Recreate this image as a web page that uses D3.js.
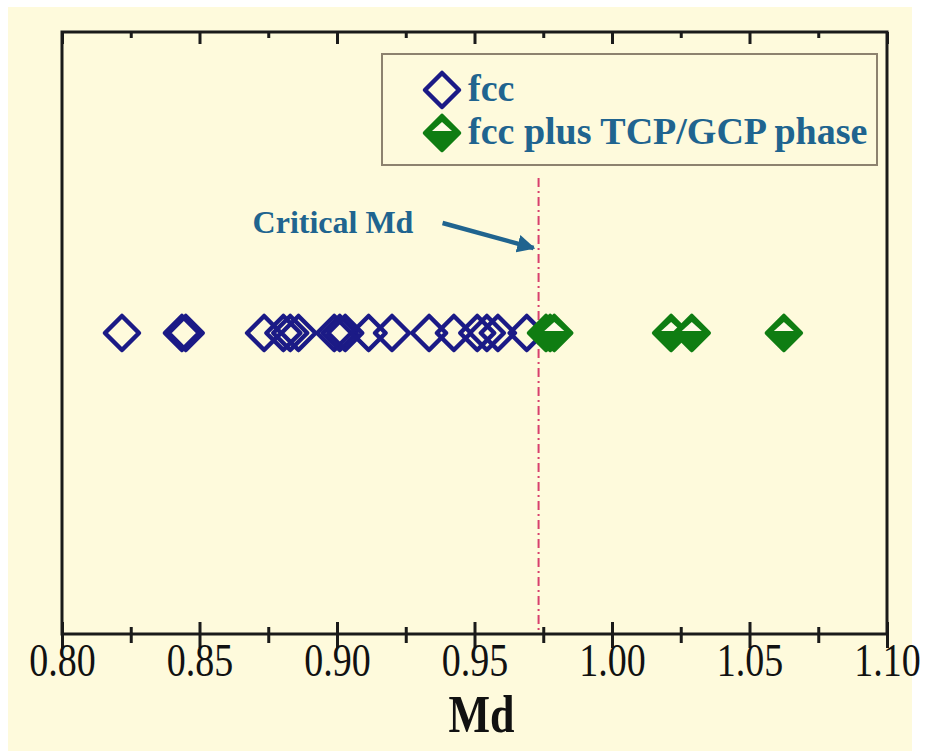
<!DOCTYPE html>
<html>
<head>
<meta charset="utf-8">
<script src="https://cdn.jsdelivr.net/npm/d3@7"></script>
<style>
  body { margin: 0; background: #ffffff; }
  svg { display: block; }
  text { font-family: "Liberation Serif", "Times New Roman", serif; }
</style>
</head>
<body>
<script>
// Md values
var fccMd = [0.8218, 0.8436, 0.8450, 0.8735, 0.8805, 0.8830, 0.8860, 0.8990,
  0.9010, 0.9030, 0.9115, 0.9200, 0.9335, 0.9425, 0.9510, 0.9545, 0.9585, 0.9690];
var tcpMd = [0.9760, 0.9775, 0.9790, 1.0215, 1.0290, 1.0625];
var criticalMd = 0.9733;
var majorTicks = [0.80, 0.85, 0.90, 0.95, 1.00, 1.05, 1.10];
var minorTicks = [0.825, 0.875, 0.925, 0.975, 1.025, 1.075];
var legendLabels = ["fcc", "fcc plus TCP/GCP phase"];

var W = 926, H = 751;
var margin = { top: 32, right: 39, bottom: 117, left: 62 };
var width = W - margin.left - margin.right,
  height = H - margin.top - margin.bottom;

var blue = "#1b1a86", green = "#0f7d12", textBlue = "#20648f";

var svg = d3.select("body").append("svg").attr("width", W).attr("height", H);

// cream background
svg.append("rect").attr("x", 8).attr("y", 7).attr("width", 904).attr("height", 744)
  .style("fill", "#fefadc");

var g = svg.append("g")
  .attr("transform", "translate(" + margin.left + "," + margin.top + ")");

var x = d3.scaleLinear().domain([0.80, 1.10]).range([0, width]);
var y = d3.scaleLinear().domain([0, 1]).range([height, 0]);

// frame
g.append("rect").attr("width", width).attr("height", height)
  .style("fill", "none").style("stroke", "#1a1a1a").style("stroke-width", 3);

// bottom axis, ticks crossing the line
var bottomMajor = g.append("g").attr("transform", "translate(0," + height + ")")
  .call(d3.axisBottom(x).tickValues(majorTicks).tickSize(14).tickFormat(d3.format(".2f")));
bottomMajor.selectAll(".tick line").attr("y1", -12);
bottomMajor.selectAll(".tick text")
  .attr("y", 0).attr("dy", 0)
  .attr("transform", "translate(0,42) scale(1,1.2)")
  .style("font-size", "38px").style("fill", "#111");

var bottomMinor = g.append("g").attr("transform", "translate(0," + height + ")")
  .call(d3.axisBottom(x).tickValues(minorTicks).tickSize(9).tickFormat(""));
bottomMinor.selectAll(".tick line").attr("y1", -7);

// top axis, ticks inward
g.append("g").call(d3.axisBottom(x).tickValues(majorTicks).tickSize(12).tickFormat(""));
g.append("g").call(d3.axisBottom(x).tickValues(minorTicks).tickSize(6).tickFormat(""));

g.selectAll(".domain").remove();
g.selectAll(".tick line").style("stroke", "#1a1a1a").style("stroke-width", 3);

// axis title
g.append("text")
  .attr("transform", "translate(" + x(0.9525) + "," + (height + 98) + ") scale(1,1.2)")
  .style("text-anchor", "middle").style("font-weight", "bold")
  .style("font-size", "44px").style("fill", "#111")
  .text("Md");

// critical Md line
g.append("line")
  .attr("x1", x(criticalMd)).attr("x2", x(criticalMd))
  .attr("y1", 146).attr("y2", height)
  .style("stroke", "#d8406e").style("stroke-width", 2)
  .style("stroke-dasharray", "9,4,2,4");

// annotation
svg.append("defs").append("marker")
  .attr("id", "arr").attr("viewBox", "0 0 10 10").attr("refX", 9).attr("refY", 5)
  .attr("markerWidth", 4).attr("markerHeight", 4).attr("orient", "auto")
  .append("path").attr("d", "M0,0L10,5L0,10z").style("fill", textBlue);

g.append("line")
  .attr("x1", x(criticalMd) - 96).attr("y1", 191)
  .attr("x2", x(criticalMd) - 5).attr("y2", 216)
  .style("stroke", textBlue).style("stroke-width", 4.5)
  .attr("marker-end", "url(#arr)");

g.append("text")
  .attr("x", x(criticalMd) - 286).attr("y", 201)
  .style("font-weight", "bold").style("font-size", "32px").style("fill", textBlue)
  .text("Critical Md");

// markers
var s = 17;
function diamond(cx, cy) {
  return "M" + cx + "," + (cy - s) + "L" + (cx + s) + "," + cy +
    "L" + cx + "," + (cy + s) + "L" + (cx - s) + "," + cy + "Z";
}
function drawFcc(sel) {
  sel.append("path")
    .attr("d", function (d) { return diamond(d.x, d.y); })
    .style("fill", "none").style("stroke", blue).style("stroke-width", 4.5)
    .style("stroke-linejoin", "round");
}
function drawTcp(sel) {
  sel.append("path")
    .attr("d", function (d) { return diamond(d.x, d.y); })
    .style("fill", green).style("stroke", green).style("stroke-width", 4.5)
    .style("stroke-linejoin", "round");
  sel.append("path")
    .attr("d", function (d) {
      return "M" + d.x + "," + (d.y - s + 6) + "L" + (d.x + 10) + "," + (d.y - 2) +
        "L" + (d.x - 10) + "," + (d.y - 2) + "Z";
    })
    .style("fill", "#fffbe6");
}

g.selectAll(".fcc").data(fccMd).enter().append("g").attr("class", "fcc")
  .datum(function (d) { return { x: x(d), y: y(0.5) }; })
  .call(drawFcc);
g.selectAll(".tcp").data(tcpMd).enter().append("g").attr("class", "tcp")
  .datum(function (d) { return { x: x(d), y: y(0.5) }; })
  .call(drawTcp);

// legend
var lg = svg.append("g");
lg.append("rect").attr("x", 382).attr("y", 54).attr("width", 495).attr("height", 111)
  .style("fill", "none").style("stroke", "#8d826f").style("stroke-width", 2);

var items = lg.selectAll(".li").data(legendLabels).enter().append("g")
  .attr("class", "li")
  .attr("transform", function (d, i) { return "translate(0," + (i * 43) + ")"; });
items.filter(function (d, i) { return i === 0; })
  .datum({ x: 442, y: 90 }).call(drawFcc);
items.filter(function (d, i) { return i === 1; })
  .datum({ x: 442, y: 90 }).call(drawTcp);
items.append("text")
  .data(legendLabels)
  .attr("x", 468).attr("y", 101)
  .style("font-weight", "bold").style("font-size", "38px").style("fill", textBlue)
  .text(function (d) { return d; });
</script>
</body>
</html>
